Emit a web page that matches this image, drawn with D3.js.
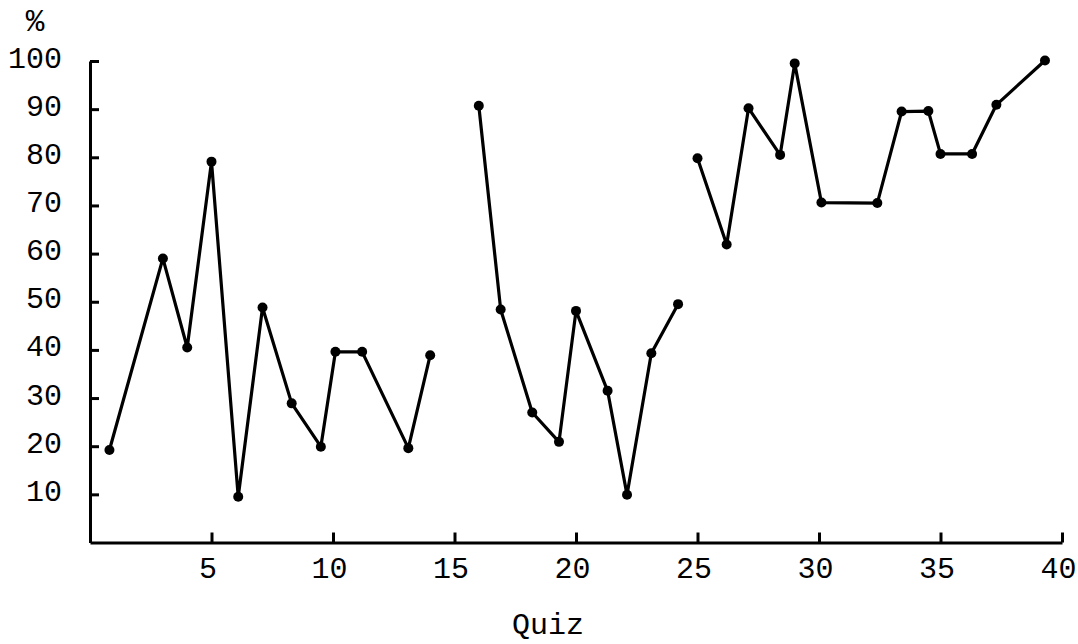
<!DOCTYPE html>
<html>
<head>
<meta charset="utf-8">
<script src="https://cdn.jsdelivr.net/npm/d3@7"></script>
<style>
html, body { margin: 0; padding: 0; background: #fff; }
svg { display: block; }
</style>
</head>
<body>
<svg id="chart" width="1078" height="644"></svg>
<script>
// ---- data ----
const seg1Quiz  = [0.8, 3.0, 4.0, 5.0, 6.1, 7.1, 8.3, 9.5, 10.1, 11.2, 13.1, 14.0];
const seg1Score = [19.2, 59.0, 40.5, 79.1, 9.5, 48.8, 28.9, 19.9, 39.6, 39.6, 19.6, 38.9];

const seg2Quiz  = [16.0, 16.9, 18.2, 19.3, 20.0, 21.3, 22.1, 23.1, 24.2];
const seg2Score = [90.7, 48.4, 27.0, 20.9, 48.1, 31.5, 9.9, 39.3, 49.5];

const seg3Quiz  = [25.0, 26.2, 27.1, 28.4, 29.0, 30.1, 32.4, 33.4, 34.5, 35.0, 36.3, 37.3, 39.3];
const seg3Score = [79.8, 61.9, 90.2, 80.5, 99.5, 70.6, 70.5, 89.5, 89.6, 80.7, 80.7, 90.9, 100.1];

const xTickValues = [5, 10, 15, 20, 25, 30, 35, 40];
const yTickValues = [10, 20, 30, 40, 50, 60, 70, 80, 90, 100];
const xTitle = "Quiz";
const yTitle = "%";

// ---- layout ----
const FONT = "'Liberation Mono', 'DejaVu Sans Mono', monospace";
const svg = d3.select("#chart");

const x = d3.scaleLinear().domain([0, 40]).range([90, 1062]);
const y = d3.scaleLinear().domain([0, 100]).range([542.5, 61]);

const segments = [
  d3.zip(seg1Quiz, seg1Score),
  d3.zip(seg2Quiz, seg2Score),
  d3.zip(seg3Quiz, seg3Score)
];

// axes
const yAxis = d3.axisLeft(y)
  .tickValues(yTickValues)
  .tickSize(-9)
  .tickSizeOuter(0)
  .tickPadding(28)
  .tickFormat(d3.format("d"));

const xAxis = d3.axisBottom(x)
  .tickValues(xTickValues)
  .tickSize(-10)
  .tickSizeOuter(0)
  .tickPadding(14)
  .tickFormat(d3.format("d"));

const gy = svg.append("g")
  .attr("transform", `translate(${x(0)},0)`)
  .call(yAxis);
const gx = svg.append("g")
  .attr("transform", `translate(0,${y(0)})`)
  .call(xAxis);

[gx, gy].forEach(g => {
  g.select(".domain").attr("stroke", "#000").attr("stroke-width", 3);
  g.selectAll(".tick line").attr("stroke", "#000").attr("stroke-width", 3);
  g.selectAll(".tick text")
    .attr("fill", "#000")
    .style("font-family", FONT)
    .style("font-size", "30px");
});
gy.selectAll(".tick text").attr("dy", "0.2em");
gx.selectAll(".tick text").attr("dx", "-4");

// lines
const line = d3.line().x(d => x(d[0])).y(d => y(d[1]));
svg.append("g").selectAll("path.seg")
  .data(segments)
  .join("path")
  .attr("class", "seg")
  .attr("d", line)
  .attr("fill", "none")
  .attr("stroke", "#000")
  .attr("stroke-width", 3.2)
  .attr("stroke-linejoin", "round");

// dots
svg.append("g").selectAll("circle")
  .data(segments.flat())
  .join("circle")
  .attr("cx", d => x(d[0]))
  .attr("cy", d => y(d[1]))
  .attr("r", 5)
  .attr("fill", "#000");

// titles
svg.append("text")
  .attr("x", 35).attr("y", 31)
  .attr("text-anchor", "middle")
  .style("font-family", FONT)
  .style("font-size", "31px")
  .attr("fill", "#000")
  .text(yTitle);

svg.append("text")
  .attr("x", 548).attr("y", 634)
  .attr("text-anchor", "middle")
  .style("font-family", FONT)
  .style("font-size", "30px")
  .attr("fill", "#000")
  .text(xTitle);
</script>
</body>
</html>
